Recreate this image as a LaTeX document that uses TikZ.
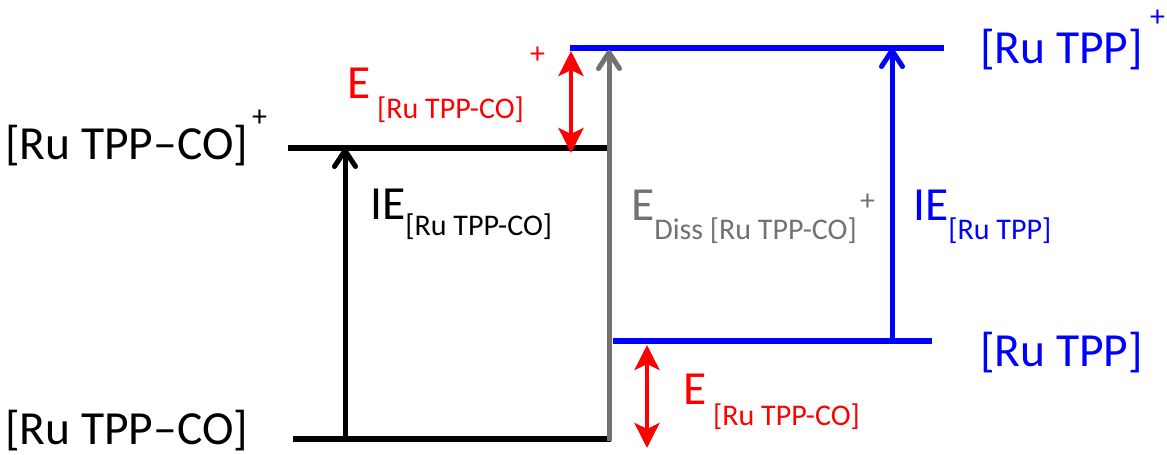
\documentclass[tikz,border=0pt]{standalone}
\usepackage{fontspec}
\setmainfont{Carlito}
\usetikzlibrary{arrows.meta}
\definecolor{dissgray}{RGB}{118,113,113}
\definecolor{pblue}{RGB}{0,0,255}
\definecolor{pred}{RGB}{255,0,0}
\newcommand{\bigf}{\fontsize{47.5}{52}\selectfont}
\newcommand{\subf}{\fontsize{30}{33}\selectfont}
\newcommand{\supf}{\fontsize{30}{33}\selectfont}
\begin{document}
\begin{tikzpicture}[x=1pt,y=-1pt,
  level/.style={line width=5.5pt},
  uparrow/.style={line width=5pt,-{Straight Barb[length=16pt,width=21pt,round]}},
  dblarrow/.style={line width=4.5pt,pred,{Stealth[length=25pt,width=25pt,inset=6pt]}-{Stealth[length=25pt,width=25pt,inset=6pt]}},
  lbl/.style={inner sep=0pt,anchor=base west,font=\bigf},
  sup/.style={inner sep=0pt,anchor=base west,font=\supf}]
\useasboundingbox (0,0) rectangle (1167,455);
% level end points
\coordinate (a1) at (293,439); \coordinate (a2) at (611,439);
\coordinate (b1) at (288,148); \coordinate (b2) at (607,148);
\coordinate (c1) at (570,48);  \coordinate (c2) at (944,48);
\coordinate (d1) at (613,341); \coordinate (d2) at (932,341);
% arrow end points
\coordinate (ie1) at (345,439); \coordinate (ie2) at (345,148);
\coordinate (g1) at (609,441);  \coordinate (g2) at (609,50);
\coordinate (bl1) at (892,341); \coordinate (bl2) at (892,48);
\coordinate (r1) at (571,51);   \coordinate (r2) at (571,153);
\coordinate (s1) at (647,345);  \coordinate (s2) at (647,448);
% levels
\draw[level] (a1) -- (a2);
\draw[level] (b1) -- (b2);
\draw[level,pblue,line width=6pt] (c1) -- (c2);
\draw[level,pblue,line width=6pt] (d1) -- (d2);
% arrows
\draw[uparrow] (ie1) -- (ie2);
\draw[uparrow,dissgray,line width=5pt] (g1) -- (g2);
\draw[uparrow,pblue] (bl1) -- (bl2);
\draw[dblarrow] (r1) -- (r2);
\draw[dblarrow] (s1) -- (s2);
% labels
\node[lbl] (tl) at (5,159) {[Ru TPP–CO]};
\node[sup] (tlp) at (252,126) {+};
\node[lbl] (bl) at (5,444) {[Ru TPP–CO]};
\node[lbl,pblue] (tr) at (980,63) {[Ru TPP]};
\node[sup,pblue] (trp) at (1150,26) {+};
\node[lbl,pblue] (br) at (980,366) {[Ru TPP]};
\node[lbl] (iel) at (370,219) {IE\raisebox{-16pt}{\subf[Ru TPP-CO]}};
\node[lbl,pblue] (ibl) at (913,220) {IE\raisebox{-19pt}{\subf[Ru TPP]}};
\node[lbl,dissgray] (gl) at (631,220) {E\raisebox{-19pt}{\subf Diss [Ru TPP-CO]}};
\node[sup,dissgray] (glp) at (860,210) {+};
\node[lbl,pred] (rl) at (347,98) {E\raisebox{-20pt}{\subf\ [Ru TPP-CO]}};
\node[sup,pred] (rlp) at (530,63) {+};
\node[lbl,pred] (rl2) at (683,404) {E\raisebox{-21pt}{\subf\ [Ru TPP-CO]}};
\end{tikzpicture}
\end{document}
